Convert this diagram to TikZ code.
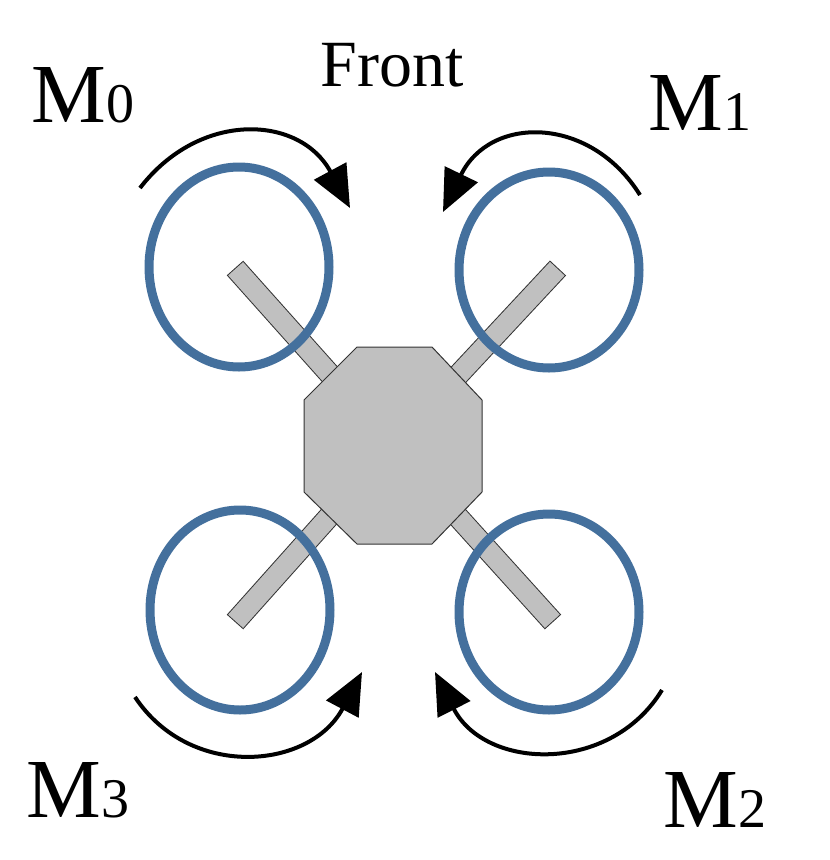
\documentclass[tikz,border=0pt]{standalone}
\usepackage{fontspec}
\setmainfont{Liberation Serif}
\usetikzlibrary{arrows.meta,calc}
\definecolor{ring}{HTML}{44709D}
\definecolor{body}{HTML}{C0C0C0}
\tikzset{
 ringst/.style={draw=ring,line width=9pt},
 rot/.style={line width=4pt,-{Triangle[length=42pt,width=36pt]}},
 lbl/.style={inner sep=0pt,anchor=center}
}
\newcommand{\Mlab}[1]{{\fontsize{84}{86}\selectfont M}{\fontsize{56}{56}\selectfont #1}}
\begin{document}
\begin{tikzpicture}[x=1pt,y=-1pt]
\useasboundingbox (0,0) rectangle (830,860);
\coordinate (c) at (393,445);
\coordinate (a0) at (235,268);
\coordinate (a1) at (558,268);
\coordinate (a2) at (553,622);
\coordinate (a3) at (235,622);
\foreach \a in {a0,a1,a2,a3}{
 \draw[line width=22pt,black!80] (c) -- (\a);
 \draw[line width=20pt,body] ($(c)!1pt!(\a)$) -- ($(\a)!1pt!(c)$);
}
\draw[fill=body,draw=black!80,line width=1pt] (357,347) -- (432,347) -- (482,400) -- (482,492) -- (432,544) -- (357,544) -- (304,492) -- (304,400) -- cycle;
\draw[ringst] (239,267) ellipse [x radius=90,y radius=100];
\draw[ringst] (549,270) ellipse [x radius=90,y radius=98];
\draw[ringst] (240,610) ellipse [x radius=90,y radius=100];
\draw[ringst] (549,612) ellipse [x radius=90,y radius=98];
\draw[rot] (140,188) .. controls (200,110) and (300,115) .. (350,208);
\draw[rot] (640,195) .. controls (590,115) and (490,115) .. (443,212);
\draw[rot] (135,697) .. controls (190,780) and (310,770) .. (362,672);
\draw[rot] (662,690) .. controls (610,775) and (485,770) .. (435,672);
\node[lbl] (front) at (392,65) {\fontsize{66}{68}\selectfont Front};
\node[lbl] (m0) at (83,95) {\Mlab{0}};
\node[lbl] (m1) at (700,103) {\Mlab{1}};
\node[lbl] (m3) at (78,790) {\Mlab{3}};
\node[lbl] (m2) at (715,800) {\Mlab{2}};
\end{tikzpicture}
\end{document}
